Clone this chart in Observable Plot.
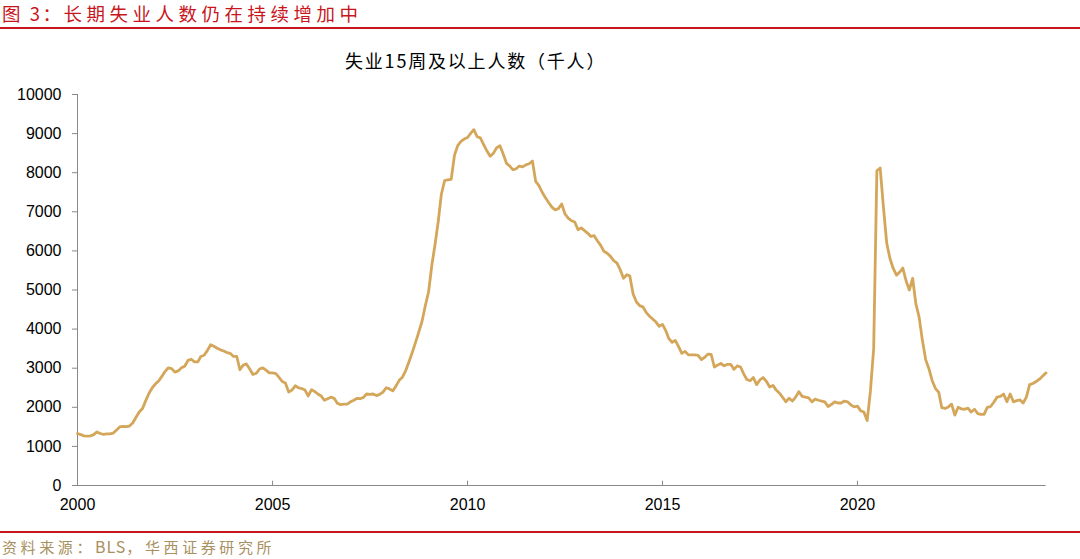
<!DOCTYPE html>
<html><head><meta charset="utf-8">
<script src="https://cdn.jsdelivr.net/npm/d3@7"></script>
<script src="https://cdn.jsdelivr.net/npm/@observablehq/plot@0.6"></script>
<style>
body{margin:0;background:#fff;}
#wrap{position:relative;width:1080px;height:559px;overflow:hidden;font-family:"Noto Sans CJK SC","Noto Sans",sans-serif;background:#fff;}
#title{position:absolute;left:2px;top:0px;font-size:18.5px;color:#c8161d;line-height:normal;white-space:nowrap;}
#title .a{letter-spacing:2.5px;}
#title .b{letter-spacing:4.5px;}
#rule1{position:absolute;left:0;top:27px;width:1080px;height:2px;background:#c8161d;}
#sub{position:absolute;left:345px;top:47px;font-size:18px;line-height:normal;letter-spacing:1.8px;color:#000;white-space:nowrap;}
#chart{position:absolute;left:0;top:80px;}
#rule2{position:absolute;left:0;top:531px;width:1080px;height:2px;background:#c8161d;}
#src{position:absolute;left:2px;top:534px;font-size:15px;line-height:normal;color:#a89060;white-space:nowrap;}
#src .c{letter-spacing:3.6px;}
#src .l{letter-spacing:1px;font-size:16px;}
</style></head>
<body>
<div id="wrap">
  <div id="title"><span class="a">图&nbsp;3：</span><span class="b">长期失业人数仍在持续增加中</span></div>
  <div id="rule1"></div>
  <div id="sub">失业15周及以上人数（千人）</div>
  <div id="chart"></div>
  <div id="rule2"></div>
  <div id="src"><span class="c">资料来源：</span><span class="l">BLS</span><span class="c">，华西证券研究所</span></div>
</div>
<script>
// Monthly values (thousands), starting January 2000
const values2000s = [
  1330,1300,1270,1260,1270,1300,1370,1330,1310,1320,1320,1340, // 2000
  1420,1500,1510,1505,1520,1600,1740,1880,1970,2170,2360,2500, // 2001
  2600,2680,2790,2920,3010,2990,2900,2930,3010,3050,3200,3230, // 2002
  3160,3160,3300,3330,3450,3600,3560,3510,3470,3440,3400,3380, // 2003
  3300,3300,2960,3080,3110,2980,2840,2870,2980,3010,2950,2880, // 2004
  2880,2860,2770,2660,2620,2390,2440,2550,2500,2480,2440,2290, // 2005
  2450,2400,2340,2290,2180,2220,2260,2230,2100,2070,2080,2080, // 2006
  2140,2180,2230,2220,2250,2340,2330,2340,2300,2330,2390,2500, // 2007
  2470,2420,2540,2690,2770,2940,3160,3400,3660,3920,4200,4590, // 2008
  4950,5640,6130,6740,7450,7800,7820,7830,8450,8690,8800,8860  // 2009
];
const values2010s = [
  8900,9010,9100,8920,8890,8720,8560,8420,8500,8640,8690,8480, // 2010
  8240,8170,8080,8100,8170,8150,8200,8230,8300,7780,7670,7500, // 2011
  7360,7230,7120,7050,7080,7200,6950,6840,6770,6740,6540,6590, // 2012
  6520,6450,6370,6390,6260,6140,5990,5940,5860,5750,5690,5520, // 2013
  5300,5390,5360,4900,4700,4600,4570,4430,4330,4260,4180,4070, // 2014
  4120,3960,3760,3660,3710,3550,3380,3430,3340,3340,3340,3330, // 2015
  3220,3280,3360,3350,3030,3080,3120,3060,3100,3100,2970,3060, // 2016
  3030,2850,2710,2680,2760,2580,2700,2760,2660,2520,2560,2440, // 2017
  2360,2250,2140,2230,2160,2260,2400,2280,2260,2240,2140,2210, // 2018
  2180,2160,2140,2020,2070,2140,2110,2110,2160,2140,2060,2010  // 2019
];
const values2020s = [
  2030,1910,1880,1660,2400,3500,8050,8120,7100,6200,5800,5550, // 2020
  5380,5460,5560,5230,5000,5300,4650,4300,3700,3220,2980,2680, // 2021
  2480,2380,1990,1970,2010,2080,1800,2000,1960,1950,1980,1880, // 2022
  1950,1840,1820,1820,2000,2020,2130,2260,2280,2340,2140,2340, // 2023
  2140,2170,2190,2110,2260,2580,2610,2660,2720,2800,2880       // 2024 (Jan-Nov)
];
const startYear = 2000;
const xTickYears = [2000, 2005, 2010, 2015, 2020];
const yTicks = [0,1000,2000,3000,4000,5000,6000,7000,8000,9000,10000];

const allValues = [...values2000s, ...values2010s, ...values2020s];
const data = allValues.map((v, i) => ({date: new Date(Date.UTC(startYear, i, 1)), value: v}));
const xStart = data[0].date;
const xEnd = data[data.length - 1].date;
const xTickDates = xTickYears.map(y => new Date(Date.UTC(y, 0, 1)));
const axisColor = "#898989";

const chart = Plot.plot({
  width: 1080,
  height: 440,
  marginTop: 14,
  marginBottom: 35,
  marginLeft: 77,
  marginRight: 34.5,
  style: {fontFamily: "'Liberation Sans', Arial, sans-serif", fontSize: "16px", color: "#000", background: "transparent", overflow: "visible"},
  x: {type: "utc", domain: [xStart, xEnd]},
  y: {domain: [0, 10000]},
  marks: [
    Plot.ruleY([0], {stroke: axisColor, strokeWidth: 1}),
    Plot.ruleX([xStart], {y1: 0, y2: 10000, stroke: axisColor, strokeWidth: 1}),
    Plot.ruleX(xTickDates, {y1: 0, y2: 110, stroke: axisColor, strokeWidth: 1}),
    Plot.axisY({ticks: yTicks, tickSize: 5, tickPadding: 11, label: null, stroke: axisColor, tickFormat: d => String(d)}),
    Plot.axisX({ticks: xTickDates, tickSize: 0, tickPadding: 13, label: null, tickFormat: d => String(d.getUTCFullYear())}),
    Plot.line(data, {x: "date", y: "value", stroke: "#d4a65a", strokeWidth: 2.8, strokeLinejoin: "round"})
  ]
});
document.getElementById("chart").appendChild(chart);
</script>
</body></html>
